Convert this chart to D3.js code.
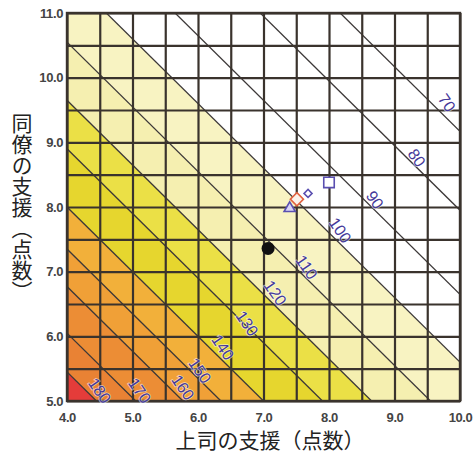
<!DOCTYPE html>
<html><head><meta charset="utf-8">
<script src="https://cdn.jsdelivr.net/npm/d3@7"></script>
<style>
html,body{margin:0;padding:0;background:#fff;}
svg{display:block;}
</style></head>
<body>
<svg id="chart" width="475" height="456"></svg>
<script>
// ---- data ----
const xDomain = [4, 10];
const yDomain = [5, 11];
const gridValuesX = [4, 4.5, 5, 5.5, 6, 6.5, 7, 7.5, 8, 8.5, 9, 9.5, 10];
const gridValuesY = [5, 5.5, 6, 6.5, 7, 7.5, 8, 8.5, 9, 9.5, 10, 10.5, 11];
const xTickLabels = [4, 5, 6, 7, 8, 9, 10];
const yTickLabels = [5, 6, 7, 8, 9, 10, 11];
// contour values and the (x + y) sum at which each line lies
const contourValues = [70, 80, 90, 100, 110, 120, 130, 140, 150, 160, 170, 180];
const contourSums   = [19.17, 17.95, 16.65, 15.6, 14.55, 13.65, 12.9, 12.0, 11.35, 10.77, 10.05, 9.45];
const labelX = [9.80, 9.34, 8.70, 8.17, 7.66, 7.18, 6.75, 6.38, 6.03, 5.77, 5.11, 4.50];
const labelY = [9.61, 8.76, 8.11, 7.64, 7.07, 6.67, 6.20, 5.83, 5.47, 5.21, 5.16, 5.16];
// band colours for region with value above the given contour
const bandValues = [100, 110, 120, 130, 140, 150, 160, 170, 180];
const bandColors = ["#f8f3c2", "#f5efb0", "#ebe046", "#e6d62e", "#f2b03a", "#f0a037", "#ec8d35", "#e98234", "#e43c3a"];
// markers
const markerNames = ["triangle", "diamondRed", "diamondSmall", "square"];
const markerX = [7.40, 7.51, 7.68, 8.00];
const markerY = [7.98, 8.12, 8.21, 8.38];
const dotX = [7.07];
const dotY = [7.36];
const xTitle = "上司の支援（点数）";
const yTitle = "同僚の支援（点数）";

// ---- layout ----
const svg = d3.select("#chart");
const L = 67, R = 460, T = 13, B = 401;
const x = d3.scaleLinear().domain(xDomain).range([L, R]);
const y = d3.scaleLinear().domain(yDomain).range([B, T]);

svg.append("defs").append("clipPath").attr("id", "plotclip")
  .append("rect").attr("x", L).attr("y", T).attr("width", R - L).attr("height", B - T);

const plot = svg.append("g").attr("clip-path", "url(#plotclip)");
plot.append("rect").attr("x", L).attr("y", T).attr("width", R - L).attr("height", B - T).attr("fill", "#ffffff");

// bands (painted from lowest value outward to highest)
const sumOf = v => contourSums[contourValues.indexOf(v)];
bandValues.forEach((v, i) => {
  const s = sumOf(v);
  const pts = [[xDomain[0], yDomain[0]], [xDomain[0], s - xDomain[0]], [s - yDomain[0], yDomain[0]]];
  plot.append("path")
    .attr("d", d3.line().x(d => x(d[0])).y(d => y(d[1]))(pts) + "Z")
    .attr("fill", bandColors[i]);
});

// grid
const gx = svg.append("g").attr("transform", `translate(0,${B})`)
  .call(d3.axisBottom(x).tickValues(gridValuesX).tickSize(-(B - T)).tickFormat(""));
const gy = svg.append("g").attr("transform", `translate(${L},0)`)
  .call(d3.axisLeft(y).tickValues(gridValuesY).tickSize(-(R - L)).tickFormat(""));
[gx, gy].forEach(g => {
  g.select(".domain").remove();
  g.selectAll("line").attr("stroke", "#3a332d").attr("stroke-width", 2.2);
});

// contour lines
contourSums.forEach(s => {
  plot.append("line")
    .attr("x1", x(xDomain[0])).attr("y1", y(s - xDomain[0]))
    .attr("x2", x(s - yDomain[0])).attr("y2", y(yDomain[0]))
    .attr("stroke", "#3c3838").attr("stroke-width", 1.3);
});

// outer border
svg.append("rect").attr("x", L).attr("y", T).attr("width", R - L).attr("height", B - T)
  .attr("fill", "none").attr("stroke", "#3a332d").attr("stroke-width", 2.4);

// contour labels
contourValues.forEach((v, i) => {
  svg.append("text")
    .attr("transform", `translate(${x(labelX[i])},${y(labelY[i])}) rotate(55)`)
    .attr("text-anchor", "middle").attr("dy", "0.35em")
    .attr("font-family", "Liberation Sans Narrow, Liberation Sans, Arial, sans-serif")
    .attr("font-size", 16)
    .attr("fill", "#45399a")
    .attr("stroke", "#ffffff").attr("stroke-width", 1.6).attr("stroke-opacity", 0.6)
    .attr("paint-order", "stroke")
    .text(v);
});

// markers
const sym = {
  triangle: {type: d3.symbolTriangle, size: 55, stroke: "#5a4fb0", fill: "#d8d4f4", rot: 0},
  diamondRed: {type: d3.symbolSquare, size: 85, stroke: "#e0603e", fill: "#fbf2ea", rot: 45},
  diamondSmall: {type: d3.symbolSquare, size: 32, stroke: "#5a4fb0", fill: "#ffffff", rot: 45},
  square: {type: d3.symbolSquare, size: 110, stroke: "#5a4fb0", fill: "#ffffff", rot: 0}
};
markerNames.forEach((n, i) => {
  const s = sym[n];
  svg.append("path")
    .attr("d", d3.symbol().type(s.type).size(s.size)())
    .attr("transform", `translate(${x(markerX[i])},${y(markerY[i])}) rotate(${s.rot})`)
    .attr("fill", s.fill).attr("stroke", s.stroke).attr("stroke-width", 1.6);
});
dotX.forEach((d, i) => {
  svg.append("circle").attr("cx", x(d)).attr("cy", y(dotY[i])).attr("r", 6.5).attr("fill", "#111");
});

// tick labels
const ax = svg.append("g").attr("transform", `translate(0,${B})`)
  .call(d3.axisBottom(x).tickValues(xTickLabels).tickSize(0).tickPadding(12).tickFormat(d3.format(".1f")));
const ay = svg.append("g").attr("transform", `translate(${L},0)`)
  .call(d3.axisLeft(y).tickValues(yTickLabels).tickSize(0).tickPadding(4).tickFormat(d3.format(".1f")));
[ax, ay].forEach(g => {
  g.select(".domain").remove();
  g.selectAll("text").attr("font-family", "Liberation Sans, Arial, sans-serif")
    .attr("font-weight", "bold").attr("font-size", 13).attr("fill", "#444")
    .attr("letter-spacing", "-0.4px");
});

// axis titles
svg.append("text")
  .attr("x", 270).attr("y", 448)
  .attr("text-anchor", "middle")
  .attr("font-family", "Noto Sans CJK JP, sans-serif")
  .attr("font-size", 21).attr("fill", "#222")
  .text(xTitle);
svg.append("text")
  .attr("x", 22).attr("y", 207)
  .attr("text-anchor", "middle")
  .style("writing-mode", "vertical-rl")
  .attr("font-family", "Noto Sans CJK JP, sans-serif")
  .attr("font-size", 21).attr("fill", "#222")
  .text(yTitle);
</script>
</body></html>
